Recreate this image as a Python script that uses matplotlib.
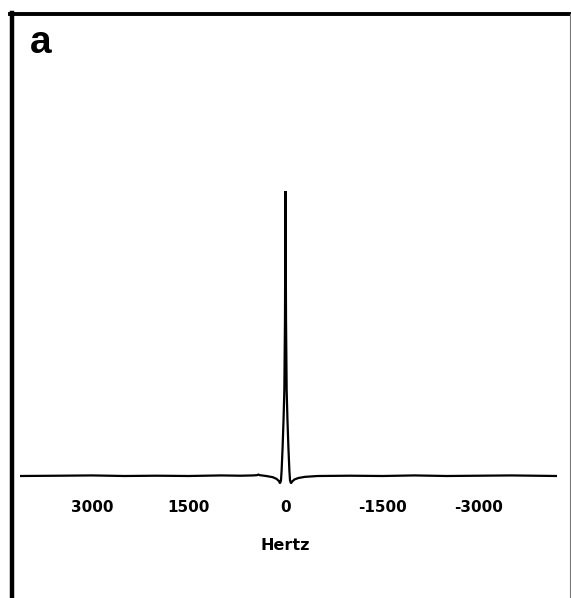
import matplotlib
matplotlib.use("Agg")
import matplotlib.pyplot as plt
from matplotlib.lines import Line2D

# ---- data ----
freq_hz = [4116, 3500, 3000, 2500, 2000, 1500, 1000, 700, 500, 440, 420, 400,
           300, 200, 140, 100, 85, 70, 60, 45, 30, 18, 8, 3, 0,
           -3, -8, -18, -30, -45, -60, -70, -85, -100, -140, -200, -300,
           -500, -1000, -1500, -2000, -2500, -3000, -3500, -4209]
amplitude = [0.0, 0.001, 0.002, 0.0, 0.001, 0.0, 0.002, 0.001, 0.002, 0.003, 0.005, 0.003,
             0.0, -0.004, -0.010, -0.018, -0.026, -0.015, 0.02, 0.10, 0.20, 0.30, 0.55, 0.85, 1.0,
             0.85, 0.55, 0.30, 0.20, 0.10, 0.02, -0.015, -0.026, -0.020, -0.012, -0.007, -0.003,
             0.0, 0.001, 0.0, 0.002, 0.0, 0.001, 0.002, 0.0]
tick_values = [3000, 1500, 0, -1500, -3000]
tick_labels = ["3000", "1500", "0", "-1500", "-3000"]
x_label = "Hertz"
panel_label = "a"

W, H = 571, 598
fig = plt.figure(figsize=(W / 100, H / 100), dpi=100)
fig.patch.set_facecolor("white")

def fx(px):
    return px / W

def fy(py):
    return 1 - py / H

# axes placement (pixels)
ax_left, ax_right, ax_top, ax_bottom = 20, 557, 150, 490
ax = fig.add_axes([fx(ax_left), fy(ax_bottom), (ax_right - ax_left) / W, (ax_bottom - ax_top) / H])
ax.plot(freq_hz, amplitude, color="black", lw=1.6, solid_joinstyle="miter")
ax.set_xlim(4116, -4209)
base_px, peak_px = 476, 191
scale = base_px - peak_px
ax.set_ylim((base_px - ax_bottom) / scale, (base_px - ax_top) / scale)
for s in ax.spines.values():
    s.set_visible(False)
ax.set_yticks([])
ax.set_xticks(tick_values)
ax.set_xticklabels(tick_labels, fontsize=11, fontweight="bold", family="DejaVu Sans")
ax.tick_params(axis="x", length=0, pad=7.5)
ax.patch.set_alpha(0)

fig.text(fx(285), fy(550), x_label, ha="center", va="baseline",
         fontsize=11.5, fontweight="bold", family="DejaVu Sans")
fig.text(fx(30), fy(53), panel_label, ha="left", va="baseline",
         fontsize=28, fontweight="bold", family="Liberation Sans")

# frame of the scanned panel
tr = fig.transFigure
fig.add_artist(Line2D([fx(12), fx(12)], [fy(13), fy(598)], transform=tr, color="black", lw=3.2))
fig.add_artist(Line2D([fx(10), fx(571)], [fy(14), fy(14)], transform=tr, color="black", lw=2.8))
fig.add_artist(Line2D([fx(569.5), fx(569.5)], [fy(14), fy(598)], transform=tr, color="#777777", lw=0.8))

fig.savefig("out.png", dpi=100, facecolor="white")
